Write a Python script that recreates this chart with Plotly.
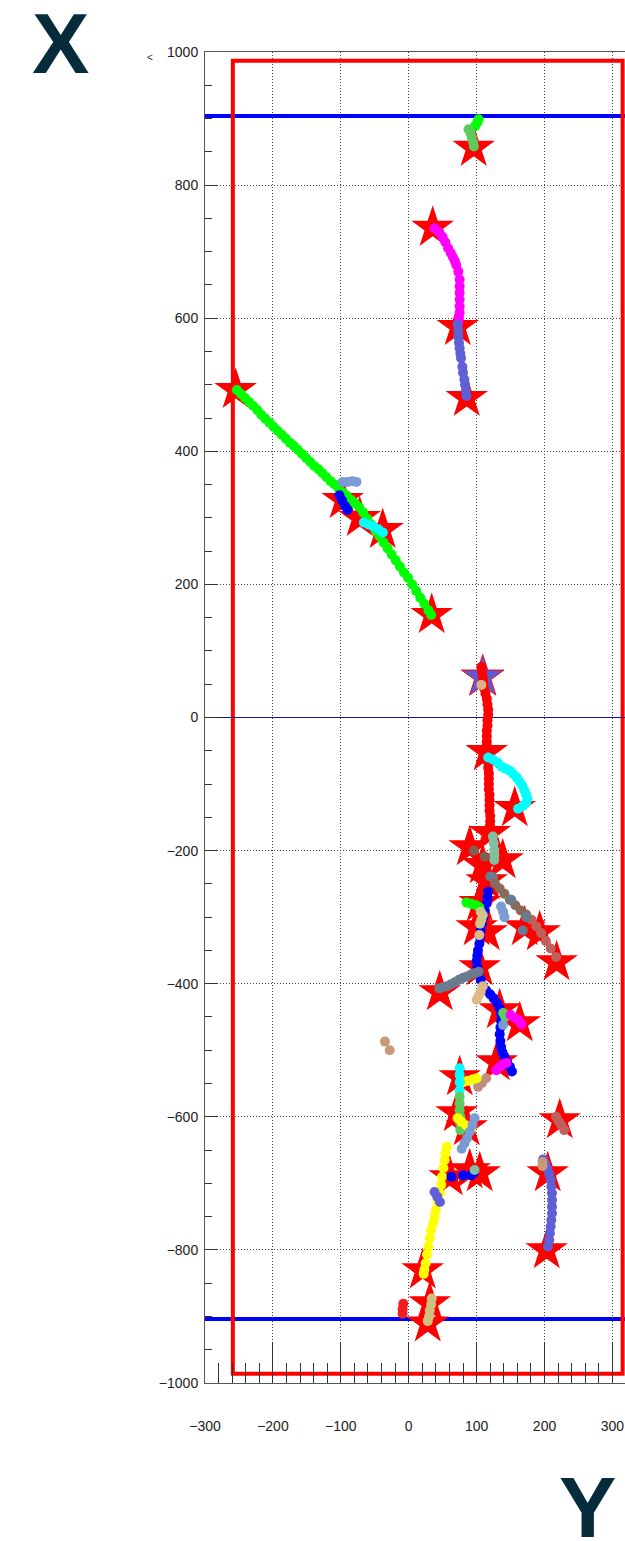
import plotly.graph_objects as go

# ---- vertex / hit markers (red stars) ----
star_x = [-254.8, 33.9, -97.2, -72.2, -38.3, 35.3, 72.2, 85.4, 95.7,
          114.9, 156.1, 119.3, 89.8, 138.4, 114.9, 109.0, 104.6, 100.1, 114.9,
          170.8, 192.9, 217.8, 45.7, 104.6, 134.0, 163.5, 129.6, 75.1, 70.7,
          85.4, 89.8, 60.4, 104.6, 222.4, 204.7, 203.2, 20.6, 31.0, 28.0]
star_y = [492.3, 154.1, 327.0, 299.9, 281.9, 735.9, 587.0, 480.3, 856.1,
          -51.9, -136.0, -173.6, -194.7, -214.2, -245.8, -221.7, -278.8, -314.9, -322.4,
          -314.9, -322.4, -367.5, -412.7, -375.1, -439.7, -459.3, -517.9, -540.5, -594.6,
          -615.6, -680.3, -690.8, -684.8, -605.1, -684.8, -800.5, -830.6, -880.2, -910.3]

# primary vertex
pv_x = [109.0]
pv_y = [60.9]

# ---- tracks ----
green_long_x = [-253, -247, -241, -235, -229, -223, -217, -211, -205, -199, -193, -187, -181, -175,
                -169, -163, -157, -151, -145, -139, -133, -127, -121, -115, -109, -103, -97, -91,
                -85, -79, -73, -67, -61, -55, -49, -43, -37, -31, -25, -19, -13, -7, -1, 5, 11,
                17, 23, 29, 33]
green_long_y = [492, 486, 480, 474, 468, 462, 455, 449, 443, 437, 431, 425, 419, 413,
                408, 402, 396, 390, 384, 378, 373, 367, 361, 355, 350, 344, 338, 333,
                327, 322, 316, 308, 299, 290, 281, 272, 263, 254, 245, 236, 227, 218, 210, 200, 190,
                180, 171, 161, 154]

blue_a_x = [-102, -98, -94, -90]
blue_a_y = [334, 326, 318, 312]

steel_a_x = [-97, -90, -83, -77]
steel_a_y = [354, 354, 355, 354]

cyan_a_x = [-66, -59, -52, -45, -38]
cyan_a_y = [293, 290, 287, 283, 278]

green_top_x = [103, 101, 98]
green_top_y = [899, 894, 889]

mgreen_top_x = [88, 91, 93, 95, 96]
mgreen_top_y = [884, 878, 871, 864, 858]

magenta_a_x = [38, 45, 50, 54, 58, 62, 65, 68, 70, 73, 75, 75, 75, 75, 75, 75, 74, 73]
magenta_a_y = [735, 729, 722, 714, 705, 698, 692, 686, 680, 670, 658, 648, 638, 628, 618, 608, 600, 592]

slate_a_x = [72, 73, 73, 74, 75, 76, 77, 79, 80, 82, 83, 84, 85]
slate_a_y = [590, 581, 572, 563, 555, 547, 540, 527, 518, 508, 500, 491, 483]

red_main_x = [107, 108, 109, 110, 111, 113, 115, 116, 117, 117, 116, 116, 115, 115, 115, 115, 116,
              116, 117, 117, 118, 118, 118, 118, 119, 119, 119, 119, 120, 120, 120, 120, 120]
red_main_y = [76, 68, 60, 52, 44, 36, 28, 20, 12, 4, -4, -12, -20, -28, -36, -44, -52,
              -60, -68, -76, -84, -92, -100, -108, -116, -124, -132, -140, -148, -156, -164, -172, -180]

tan_pv_x = [107]
tan_pv_y = [49]

cyan_b_x = [117, 124, 131, 137, 143, 149, 154, 159, 163, 167, 170, 173, 175, 173, 168, 161]
cyan_b_y = [-60, -63, -68, -74, -77, -80, -85, -90, -96, -102, -109, -116, -122, -128, -133, -137]

sage_a_x = [124, 125, 126, 126, 126]
sage_a_y = [-179, -189, -199, -207, -214]

brown_a_x = [96, 112]
brown_a_y = [-200, -209]

sgray_a_x = [120, 124]
sgray_a_y = [-239, -240]

brown_b_x = [127, 134, 141, 149, 157, 165, 173]
brown_b_y = [-249, -257, -265, -274, -282, -290, -296]

rosy_a_x = [181, 188, 195, 202, 209, 217]
rosy_a_y = [-304, -314, -324, -336, -347, -360]

sgray_b_x = [151, 173, 168]
sgray_b_y = [-274, -300, -320]

steel_b_x = [136, 139, 141]
steel_b_y = [-284, -292, -300]

blue_main_x = [117, 116, 115, 112, 110, 108, 106, 105, 104, 102, 101, 100, 101, 103, 106, 109,
               114, 120, 125, 130, 134, 136, 136, 135, 134, 135, 136, 138, 141, 145, 149, 152]
blue_main_y = [-262, -271, -279, -290, -300, -310, -320, -330, -340, -350, -358, -366, -375, -384, -394, -404,
               -410, -416, -422, -429, -437, -446, -456, -466, -476, -486, -495, -503, -510, -518, -525, -532]

green_b_x = [85, 92, 99, 104]
green_b_y = [-278, -280, -282, -285]

khaki_a_x = [106, 109, 107, 105]
khaki_a_y = [-292, -297, -304, -310]

tan_a_x = [104]
tan_a_y = [-327]

sgray_c_x = [45, 51, 56, 62, 68, 74, 80, 86, 92, 98, 103]
sgray_c_y = [-407, -405, -404, -401, -398, -394, -391, -389, -386, -384, -382]

burly_a_x = [109, 106, 103, 100]
burly_a_y = [-404, -412, -418, -424]

mgreen_b_x = [139, 142]
mgreen_b_y = [-444, -450]

steel_c_x = [139]
steel_c_y = [-462]

magenta_b_x = [150, 156, 162, 166]
magenta_b_y = [-447, -451, -455, -461]

clay_a_x = [-35, -28]
clay_a_y = [-487, -500]

magenta_c_x = [129, 134, 139, 144]
magenta_c_y = [-530, -525, -521, -519]

rosybrown_a_x = [102, 108, 114]
rosybrown_a_y = [-555, -549, -542]

yellow_a_x = [80, 87, 94, 100]
yellow_a_y = [-548, -546, -544, -542]

cyan_c_x = [75, 75, 75, 75]
cyan_c_y = [-527, -537, -548, -560]

mgreen_c_x = [75, 75, 75, 76, 76, 76]
mgreen_c_y = [-570, -580, -590, -600, -610, -620]

yellow_b_x = [72, 78, 85, 92]
yellow_b_y = [-602, -608, -613, -618]

steel_d_x = [97, 94, 90, 86, 82, 78]
steel_d_y = [-602, -612, -622, -632, -640, -648]

yellow_long_x = [56, 54, 53, 51, 49, 48, 46, 43, 40, 38, 36, 33, 31, 29, 27, 25, 23, 22]
yellow_long_y = [-645, -655, -665, -677, -690, -702, -715, -728, -740, -750, -760, -770, -782, -795, -807,
                 -820, -830, -836]

slate_b_x = [38, 42, 46]
slate_b_y = [-713, -720, -728]

blue_b_x = [63, 80, 92, 96]
blue_b_y = [-690, -688, -688, -684]

sage_b_x = [97]
sage_b_y = [-680]

rosy_b_x = [217, 221, 225, 229]
rosy_b_y = [-600, -607, -613, -620]

slate_c_x = [198, 201, 204, 207, 209, 210, 211, 211, 211, 211, 210, 209, 208, 207, 205]
slate_c_y = [-664, -670, -678, -686, -695, -705, -715, -725, -735, -745, -755, -765, -775, -785, -795]

clay_b_x = [197, 197]
clay_b_y = [-668, -674]

red_b_x = [-8, -9, -9]
red_b_y = [-881, -889, -896]

khaki_b_x = [34, 33, 31, 30, 28]
khaki_b_y = [-873, -882, -891, -900, -907]

# detector outline and reference planes
box_x = [-259, 315]
box_y = [-986, 987]
plane_y = [-904, 904]

tracks = [
    (green_long_x, green_long_y, "#00ff00"),
    (blue_a_x, blue_a_y, "#0000ff"),
    (steel_a_x, steel_a_y, "#7b9bd5"),
    (cyan_a_x, cyan_a_y, "#00ffff"),
    (green_top_x, green_top_y, "#00ff00"),
    (mgreen_top_x, mgreen_top_y, "#5ccc5c"),
    (magenta_a_x, magenta_a_y, "#ff00ff"),
    (slate_a_x, slate_a_y, "#6060d6"),
    (red_main_x, red_main_y, "#ff0000"),
    (tan_pv_x, tan_pv_y, "#e0b080"),
    (cyan_b_x, cyan_b_y, "#00ffff"),
    (sage_a_x, sage_a_y, "#80c0a0"),
    (brown_a_x, brown_a_y, "#806050"),
    (sgray_a_x, sgray_a_y, "#6b7b8f"),
    (brown_b_x, brown_b_y, "#8c6a5a"),
    (rosy_a_x, rosy_a_y, "#c0605c"),
    (sgray_b_x, sgray_b_y, "#6b7b8f"),
    (steel_b_x, steel_b_y, "#7b9bd5"),
    (blue_main_x, blue_main_y, "#0000ff"),
    (green_b_x, green_b_y, "#00ff00"),
    (khaki_a_x, khaki_a_y, "#d0c488"),
    (tan_a_x, tan_a_y, "#deb887"),
    (sgray_c_x, sgray_c_y, "#6b7b8f"),
    (burly_a_x, burly_a_y, "#deb887"),
    (mgreen_b_x, mgreen_b_y, "#5ccc5c"),
    (steel_c_x, steel_c_y, "#7b9bd5"),
    (magenta_b_x, magenta_b_y, "#ff00ff"),
    (clay_a_x, clay_a_y, "#c89a7a"),
    (magenta_c_x, magenta_c_y, "#ff00ff"),
    (rosybrown_a_x, rosybrown_a_y, "#bc8f7f"),
    (yellow_a_x, yellow_a_y, "#ffff00"),
    (cyan_c_x, cyan_c_y, "#00ffff"),
    (mgreen_c_x, mgreen_c_y, "#5ccc5c"),
    (yellow_b_x, yellow_b_y, "#ffff00"),
    (steel_d_x, steel_d_y, "#7b9bd5"),
    (yellow_long_x, yellow_long_y, "#ffff00"),
    (slate_b_x, slate_b_y, "#6060d6"),
    (blue_b_x, blue_b_y, "#0000ff"),
    (sage_b_x, sage_b_y, "#80c0a0"),
    (rosy_b_x, rosy_b_y, "#c0605c"),
    (slate_c_x, slate_c_y, "#6060d6"),
    (clay_b_x, clay_b_y, "#c89a7a"),
    (red_b_x, red_b_y, "#f02020"),
    (khaki_b_x, khaki_b_y, "#d0c080"),
]

fig = go.Figure()

fig.add_trace(go.Scatter(x=star_x, y=star_y, mode="markers", hoverinfo="skip",
                         marker=dict(symbol="star", size=32, color="#ff0000", line_width=0)))
fig.add_trace(go.Scatter(x=pv_x, y=pv_y, mode="markers", hoverinfo="skip",
                         marker=dict(symbol="star", size=32, color="#5b5bd6",
                                     line=dict(color="#ff0000", width=1))))

for tx, ty, col in tracks:
    fig.add_trace(go.Scatter(x=tx, y=ty, mode="markers", hoverinfo="skip",
                             marker=dict(symbol="circle", size=10, color=col, line_width=0)))

# detector box
fig.add_shape(type="rect", x0=box_x[0], x1=box_x[1], y0=box_y[0], y1=box_y[1],
              line=dict(color="#ff0000", width=4), layer="below")
for py in plane_y:
    fig.add_shape(type="line", xref="paper", x0=0, x1=1, y0=py, y1=py,
                  line=dict(color="#0000ff", width=4), layer="below")

tick_font = dict(family="Liberation Sans, Arial, sans-serif", size=14, color="#222")

fig.update_xaxes(range=[-300, 318.5], tick0=0, dtick=100, ticks="inside", ticklen=41,
                 tickcolor="#333", tickwidth=1, ticklabelstandoff=30, ticklabeloverflow="allow",
                 minor=dict(ticks="inside", ticklen=20, dtick=20, tick0=0, tickcolor="#333", showgrid=False),
                 showgrid=True, gridcolor="#444", griddash="1px,2px", gridwidth=1,
                 zeroline=False, showline=True, linecolor="#555", linewidth=1, mirror=True,
                 tickfont=tick_font)
fig.update_yaxes(range=[-1000, 1000], tick0=0, dtick=200, ticks="inside", ticklen=13,
                 tickcolor="#333", tickwidth=1, ticklabelstandoff=3,
                 minor=dict(ticks="inside", ticklen=7, dtick=50, tick0=0, tickcolor="#333", showgrid=False),
                 showgrid=True, gridcolor="#444", griddash="1px,2px", gridwidth=1,
                 zeroline=True, zerolinecolor="#14148c", zerolinewidth=1,
                 showline=True, linecolor="#555", linewidth=1,
                 tickfont=tick_font)

big = dict(family="Liberation Sans, Arial, sans-serif", size=86, color="#062b3a")
fig.add_annotation(text="<b>X</b>", xref="paper", yref="paper", x=-0.343, y=1.0065,
                   xanchor="center", yanchor="middle", showarrow=False, font=big)
fig.add_annotation(text="<b>Y</b>", xref="paper", yref="paper", x=0.911, y=-0.093,
                   xanchor="center", yanchor="middle", showarrow=False, font=big)
fig.add_annotation(text="&lt;", xref="paper", yref="paper", x=-0.1316, y=0.9962,
                   xanchor="center", yanchor="middle", showarrow=False,
                   font=dict(family="Liberation Sans, Arial, sans-serif", size=10, color="#333"))

fig.update_layout(width=625, height=1541, margin=dict(l=205, r=0, t=52, b=158),
                  plot_bgcolor="white", paper_bgcolor="white", showlegend=False)

fig.write_html("out.html")
